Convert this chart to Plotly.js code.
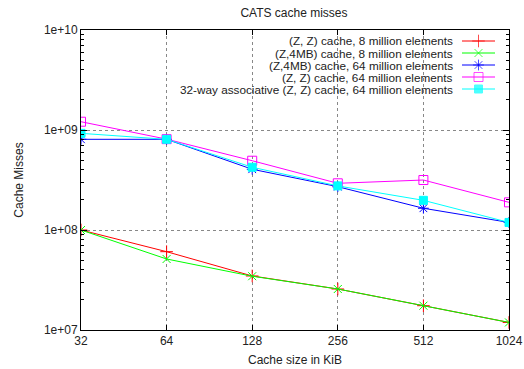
<!DOCTYPE html>
<html><head><meta charset="utf-8">
<script src="https://cdn.plot.ly/plotly-3.0.1.min.js"></script>
<style>body{margin:0;background:#fff}#c{width:524px;height:369px}</style>
</head><body><div id="c"></div>
<script>
const cacheSizes = [32, 64, 128, 256, 512, 1024];
const zz8M   = [1.0e8, 6.07e7, 3.47e7, 2.57e7, 1.75e7, 1.19e7];
const z4mb8M = [1.0e8, 5.13e7, 3.45e7, 2.57e7, 1.75e7, 1.19e7];
const z4mb64M = [8.07e8, 8.07e8, 4.05e8, 2.71e8, 1.65e8, 1.19e8];
const zz64M  = [1.21e9, 8.1e8, 4.93e8, 2.93e8, 3.16e8, 1.89e8];
const assoc64M = [9.26e8, 8.07e8, 4.24e8, 2.76e8, 1.98e8, 1.19e8];
const seriesNames = ["(Z, Z) cache, 8 million elements","(Z,4MB) cache, 8 million elements","(Z,4MB) cache, 64 million elements","(Z, Z) cache, 64 million elements","32-way associative (Z, Z) cache, 64 million elements"];
const yTickVals = [1e7, 1e8, 1e9, 1e10];
const yTickText = ["1e+07","1e+08","1e+09","1e+10"];

const W = 524, H = 369, M = {l:81, r:15, t:30, b:39};
const PW = W - M.l - M.r, PH = H - M.t - M.b;
const styles = [
  {c:'#ff0000', s:'cross-thin-open', sz:9},
  {c:'#00ff00', s:'x-thin-open', sz:8},
  {c:'#0000ff', s:'asterisk-open', sz:9},
  {c:'#ff00ff', s:'square-open', sz:9},
  {c:'#00ffff', s:'square', sz:8}
];
const ys = [zz8M, z4mb8M, z4mb64M, zz64M, assoc64M];
const traces = ys.map((y,i)=>({
  x: cacheSizes, y: y, name: seriesNames[i], type:'scatter', mode:'lines+markers', showlegend:false,
  line:{color:styles[i].c, width:1},
  marker:{symbol:styles[i].s, size:styles[i].sz, color:styles[i].c, line:{color:styles[i].c, width:1}}
}));
// gnuplot-style key: text right-aligned, sample to the right (drawn on a hidden overlay axis in plot-fraction units)
const px2fx = px => (px - M.l) / PW;
const py2fy = py => 1 - (py - M.t) / PH;
const keyTextRight = 454, keyLineX0 = 462, keyLineX1 = 495, keyRow0 = 41, keyRowGap = 12;
const FF = 'Liberation Sans, Arial, sans-serif';
const annotations = [];
seriesNames.forEach((n,i)=>{
  const ry = keyRow0 + keyRowGap*i;
  annotations.push({xref:'paper', yref:'paper', x:px2fx(keyTextRight), y:py2fy(ry), xanchor:'right', yanchor:'middle',
    text:n, showarrow:false, borderpad:0, font:{family:FF, size:11.75, color:'#222'}});
  traces.push({x:[px2fx(keyLineX0), px2fx((keyLineX0+keyLineX1)/2), px2fx(keyLineX1)], y:[py2fy(ry),py2fy(ry),py2fy(ry)],
    xaxis:'x2', yaxis:'y2', type:'scatter', mode:'lines+markers', showlegend:false, hoverinfo:'skip',
    line:{color:styles[i].c, width:1},
    marker:{symbol:styles[i].s, size:[0, styles[i].sz, 0], color:styles[i].c, line:{color:styles[i].c, width:1}}});
});
const font = {family:FF, size:12, color:'#222'};
const layout = {
  width:W, height:H, margin:M,
  paper_bgcolor:'#fff', plot_bgcolor:'#fff', font: font,
  title:{text:'CATS cache misses', x:0.561, xanchor:'center', y:0.965, yanchor:'middle', font:{family:FF, size:12, color:'#222'}},
  showlegend:false,
  annotations: annotations,
  xaxis:{type:'log', range:[Math.log10(32), Math.log10(1024)], tickvals:cacheSizes, ticktext:cacheSizes.map(String),
    ticks:'inside', ticklen:5, tickcolor:'#000', showline:true, linecolor:'#000', linewidth:1, mirror:'allticks',
    showgrid:true, gridcolor:'#888', griddash:'dot', gridwidth:1, zeroline:false, tickfont:{family:FF,size:12,color:'#222'},
    title:{text:'Cache size in KiB', standoff:8, font:{family:FF,size:12,color:'#222'}}},
  yaxis:{type:'log', range:[7,10], tickvals:yTickVals, ticktext:yTickText,
    ticks:'inside', ticklen:6, tickcolor:'#000', showline:true, linecolor:'#000', linewidth:1, mirror:'allticks',
    showgrid:true, gridcolor:'#888', griddash:'dot', gridwidth:1, zeroline:false, tickfont:{family:FF,size:12,color:'#222'},
    minor:{ticks:'inside', ticklen:3, tickcolor:'#000', showgrid:false, dtick:'D1'},
    title:{text:'Cache Misses', standoff:17, font:{family:FF,size:12,color:'#222'}}},
  xaxis2:{overlaying:'x', range:[0,1], visible:false, fixedrange:true},
  yaxis2:{overlaying:'y', range:[0,1], visible:false, fixedrange:true}
};
Plotly.newPlot('c', traces, layout, {displayModeBar:false, staticPlot:true});
</script></body></html>
